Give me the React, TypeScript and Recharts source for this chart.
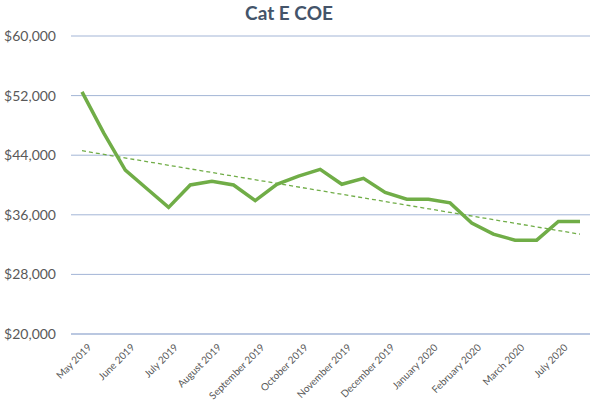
import React from "react";
import { LineChart, Line, XAxis, YAxis, CartesianGrid } from "recharts";

const tickLabels = [
  "May 2019", "June 2019", "July 2019", "August 2019", "September 2019", "October 2019",
  "November 2019", "December 2019", "January 2020", "February 2020", "March 2020", "July 2020",
];

// two bidding rounds per month
const categories = tickLabels.flatMap((m) => [m + "|1", m + "|2"]);

const coePrices = [
  52500, 47000, 42000, 39500, 37000, 40000, 40500, 40000, 37900, 40100, 41200, 42100,
  40100, 40900, 39000, 38100, 38100, 37600, 34900, 33400, 32600, 32600, 35100, 35100,
];

const trendStart = 44600;
const trendEnd = 33400;

const yTicks = [20000, 28000, 36000, 44000, 52000, 60000];

const data = categories.map((c, i) => ({
  cat: c,
  price: coePrices[i],
  trend: i === 0 ? trendStart : i === categories.length - 1 ? trendEnd : null,
}));

const GREEN = "#70AD47";
const GRID = "#A3B5D6";
const TEXT = "#595959";
const FONT = "Lato, 'Open Sans', 'Liberation Sans', sans-serif";

const fmtMoney = (v: number) => "$" + v.toLocaleString("en-US");

export default function App() {
  return (
    <div style={{ position: "absolute", left: 0, top: 0, width: 600, height: 400, background: "#fff", fontFamily: FONT }}>
      <div
        style={{
          position: "absolute",
          left: 0,
          top: 1,
          width: 578,
          textAlign: "center",
          fontSize: 19,
          fontWeight: 700,
          color: "#44546A",
          fontFamily: FONT,
        }}
      >
        Cat E COE
      </div>
      <LineChart width={600} height={400} data={data} margin={{ top: 36, right: 10, left: 0, bottom: 0 }}>
        <CartesianGrid horizontal vertical={false} stroke={GRID} strokeWidth={1} />
        <XAxis
          dataKey="cat"
          interval={1}
          height={66}
          padding={{ left: 11, right: 10 }}
          axisLine={{ stroke: GRID }}
          tickLine={false}
          tickMargin={3}
          angle={-45}
          textAnchor="end"
          dx={5}
          tick={{ fontSize: 10, fill: TEXT, fontFamily: FONT }}
          tickFormatter={(v: string) => v.split("|")[0]}
        />
        <YAxis
          width={71}
          domain={[20000, 60000]}
          ticks={yTicks}
          axisLine={false}
          tickLine={false}
          tickMargin={9}
          tick={{ fontSize: 14, fill: TEXT, fontFamily: FONT }}
          tickFormatter={fmtMoney}
        />
        <Line
          type="linear"
          dataKey="trend"
          stroke={GREEN}
          strokeWidth={1.3}
          strokeDasharray="4 3"
          dot={false}
          connectNulls
          isAnimationActive={false}
        />
        <Line
          type="linear"
          dataKey="price"
          stroke={GREEN}
          strokeWidth={3.5}
          dot={false}
          isAnimationActive={false}
        />
      </LineChart>
    </div>
  );
}
